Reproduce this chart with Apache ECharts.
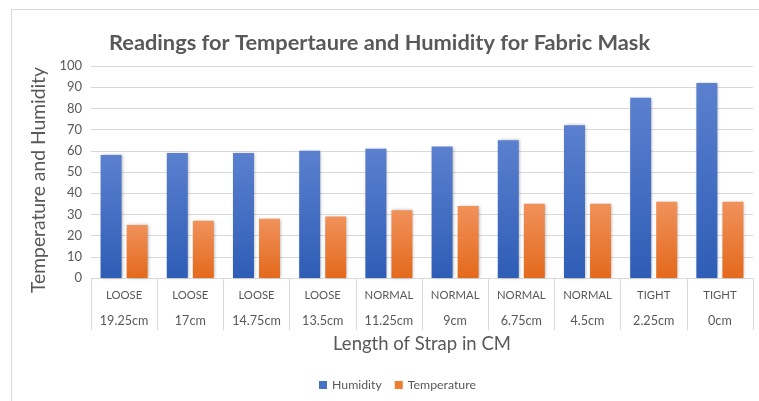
<!DOCTYPE html>
<html>
<head>
<meta charset="utf-8">
<script src="https://cdn.jsdelivr.net/npm/echarts@6/dist/echarts.min.js"></script>
<style>
  html, body { margin: 0; padding: 0; background: #fff; }
  #chart { width: 759px; height: 401px; }
</style>
</head>
<body>
<div id="chart"></div>
<script>
// Strap fit group and strap length for each reading
const fitGroups = ['LOOSE', 'LOOSE', 'LOOSE', 'LOOSE', 'NORMAL', 'NORMAL', 'NORMAL', 'NORMAL', 'TIGHT', 'TIGHT'];
const strapLengths = ['19.25cm', '17cm', '14.75cm', '13.5cm', '11.25cm', '9cm', '6.75cm', '4.5cm', '2.25cm', '0cm'];
const humidity = [58, 59, 59, 60, 61, 62, 65, 72, 85, 92];
const temperature = [25, 27, 28, 29, 32, 34, 35, 35, 36, 36];
const yTicks = [0, 10, 20, 30, 40, 50, 60, 70, 80, 90, 100];

const categories = strapLengths.map((len, i) => fitGroups[i] + '|' + len);

const FONT = 'Lato, "Open Sans", sans-serif';
const TEXT = '#595959';

const chart = echarts.init(document.getElementById('chart'), null, { renderer: 'canvas' });

const blueGrad = new echarts.graphic.LinearGradient(0, 0, 0, 1, [
  { offset: 0, color: '#5b80cf' },
  { offset: 1, color: '#2e5db6' }
]);
const orangeGrad = new echarts.graphic.LinearGradient(0, 0, 0, 1, [
  { offset: 0, color: '#f0925b' },
  { offset: 1, color: '#e4691c' }
]);

chart.setOption({
  animation: false,
  backgroundColor: '#fff',
  textStyle: { fontFamily: FONT },
  title: {
    text: 'Readings for Tempertaure and Humidity for Fabric Mask',
    left: 'center',
    top: 27,
    textStyle: { fontFamily: FONT, fontSize: 21.8, fontWeight: 'bold', color: TEXT }
  },
  graphic: [
    { type: 'line', shape: { x1: 11, y1: 9.5, x2: 759, y2: 9.5 }, style: { stroke: '#d9d9d9', lineWidth: 1 } },
    { type: 'line', shape: { x1: 11.5, y1: 9, x2: 11.5, y2: 401 }, style: { stroke: '#d9d9d9', lineWidth: 1 } }
  ],
  legend: {
    bottom: 5,
    left: 314,
    itemWidth: 8,
    itemHeight: 8,
    itemGap: 13,
    icon: 'rect',
    textStyle: { fontFamily: FONT, fontSize: 12.3, color: TEXT },
    data: [
      { name: 'Humidity', itemStyle: { color: '#4472c4' } },
      { name: 'Temperature', itemStyle: { color: '#ed7d31' } }
    ]
  },
  grid: { left: 91, right: 6, top: 66, bottom: 123, containLabel: false },
  xAxis: {
    type: 'category',
    data: categories,
    name: 'Length of Strap in CM',
    nameLocation: 'middle',
    nameGap: 57,
    nameTextStyle: { fontFamily: FONT, fontSize: 18.5, color: TEXT },
    axisLine: { show: true, lineStyle: { color: '#d9d9d9' } },
    axisTick: { show: true, length: 52, lineStyle: { color: '#d9d9d9' } },
    axisLabel: {
      interval: 0,
      margin: 4,
      color: TEXT,
      formatter: v => {
        const [fit, len] = v.split('|');
        return '{fit|' + fit + '}\n{len|' + len + '}';
      },
      rich: {
        fit: { fontFamily: FONT, fontSize: 11.3, color: TEXT, lineHeight: 26 },
        len: { fontFamily: FONT, fontSize: 12.6, color: TEXT, lineHeight: 26 }
      }
    }
  },
  yAxis: {
    type: 'value',
    min: 0,
    max: 100,
    interval: 10,
    name: 'Temperature and Humidity',
    nameLocation: 'middle',
    nameGap: 37,
    nameTextStyle: { fontFamily: FONT, fontSize: 19.3, color: TEXT, padding: [0, 16, 0, 0] },
    axisLine: { show: false },
    axisTick: { show: false },
    axisLabel: {
      margin: 9,
      fontFamily: FONT,
      fontSize: 13,
      color: TEXT,
      formatter: v => (yTicks.includes(v) ? String(v) : '')
    },
    splitLine: { lineStyle: { color: '#d9d9d9' } }
  },
  series: [
    {
      name: 'Humidity',
      type: 'bar',
      data: humidity,
      barWidth: 21,
      barGap: '24%',
      itemStyle: {
        color: blueGrad,
        shadowColor: 'rgba(0,0,0,0.3)',
        shadowBlur: 3,
        shadowOffsetX: 1,
        shadowOffsetY: 0
      }
    },
    {
      name: 'Temperature',
      type: 'bar',
      data: temperature,
      barWidth: 21,
      itemStyle: {
        color: orangeGrad,
        shadowColor: 'rgba(0,0,0,0.3)',
        shadowBlur: 3,
        shadowOffsetX: 1,
        shadowOffsetY: 0
      }
    }
  ]
});
</script>
</body>
</html>
